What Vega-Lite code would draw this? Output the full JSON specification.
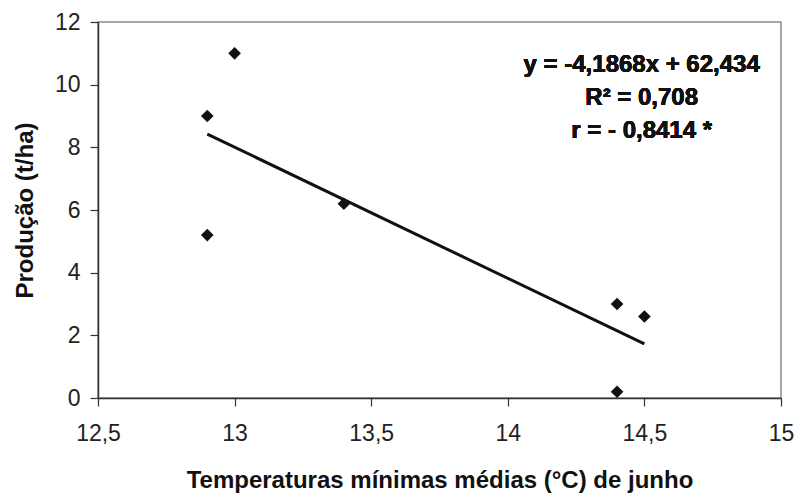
{
  "$schema": "https://vega.github.io/schema/vega-lite/v6.json",
  "width": 683,
  "height": 376,
  "autosize": {"type": "none"},
  "padding": {"left": 98, "top": 22, "right": 18, "bottom": 100},
  "background": "white",
  "config": {
    "font": "Liberation Sans",
    "view": {"stroke": "#8a8a8a", "strokeWidth": 1.5},
    "axis": {
      "grid": false,
      "domainColor": "#333333",
      "domainWidth": 1.5,
      "tickColor": "#333333",
      "tickWidth": 1.2,
      "tickSize": 8,
      "labelFont": "Liberation Sans",
      "labelFontSize": 23,
      "labelColor": "#222222",
      "titleFont": "Liberation Sans",
      "titleFontSize": 24,
      "titleFontWeight": "bold",
      "titleColor": "#111111"
    }
  },
  "data": {
    "values": [
      {"temp": 12.9, "prod": 9.0},
      {"temp": 12.9, "prod": 5.2},
      {"temp": 13.0, "prod": 11.0},
      {"temp": 13.4, "prod": 6.2},
      {"temp": 14.4, "prod": 3.0},
      {"temp": 14.4, "prod": 0.2},
      {"temp": 14.5, "prod": 2.6}
    ]
  },
  "layer": [
    {
      "mark": {"type": "point", "shape": "diamond", "filled": true, "color": "#111111", "opacity": 1, "size": 160},
      "encoding": {
        "x": {
          "field": "temp", "type": "quantitative",
          "scale": {"domain": [12.5, 15], "nice": false, "zero": false},
          "axis": {
            "values": [12.5, 13, 13.5, 14, 14.5, 15],
            "labelExpr": "replace(format(datum.value, '~f'), '.', ',')",
            "labelPadding": 16,
            "labelFlush": false,
            "title": "Temperaturas mínimas médias (°C) de junho",
            "titleY": 89,
            "titleBaseline": "alphabetic"
          }
        },
        "y": {
          "field": "prod", "type": "quantitative",
          "scale": {"domain": [0, 12], "nice": false},
          "axis": {
            "values": [0, 2, 4, 6, 8, 10, 12],
            "labelPadding": 10,
            "labelFlush": false,
            "title": "Produção (t/ha)",
            "titleX": -73,
            "titleBaseline": "middle"
          }
        }
      }
    },
    {
      "transform": [
        {"regression": "prod", "on": "temp", "method": "linear"}
      ],
      "mark": {"type": "line", "color": "#111111", "strokeWidth": 3},
      "encoding": {
        "x": {"field": "temp", "type": "quantitative"},
        "y": {"field": "prod", "type": "quantitative"}
      }
    },
    {
      "mark": {
        "type": "text",
        "text": ["y = -4,1868x + 62,434", "R² = 0,708", "r = - 0,8414 *"],
        "font": "Liberation Sans",
        "fontSize": 24,
        "fontWeight": "bold",
        "color": "#111111",
        "align": "center",
        "baseline": "alphabetic",
        "lineHeight": 33
      },
      "encoding": {
        "x": {"datum": 14.49, "type": "quantitative"},
        "y": {"datum": 10.4, "type": "quantitative"}
      }
    }
  ]
}
